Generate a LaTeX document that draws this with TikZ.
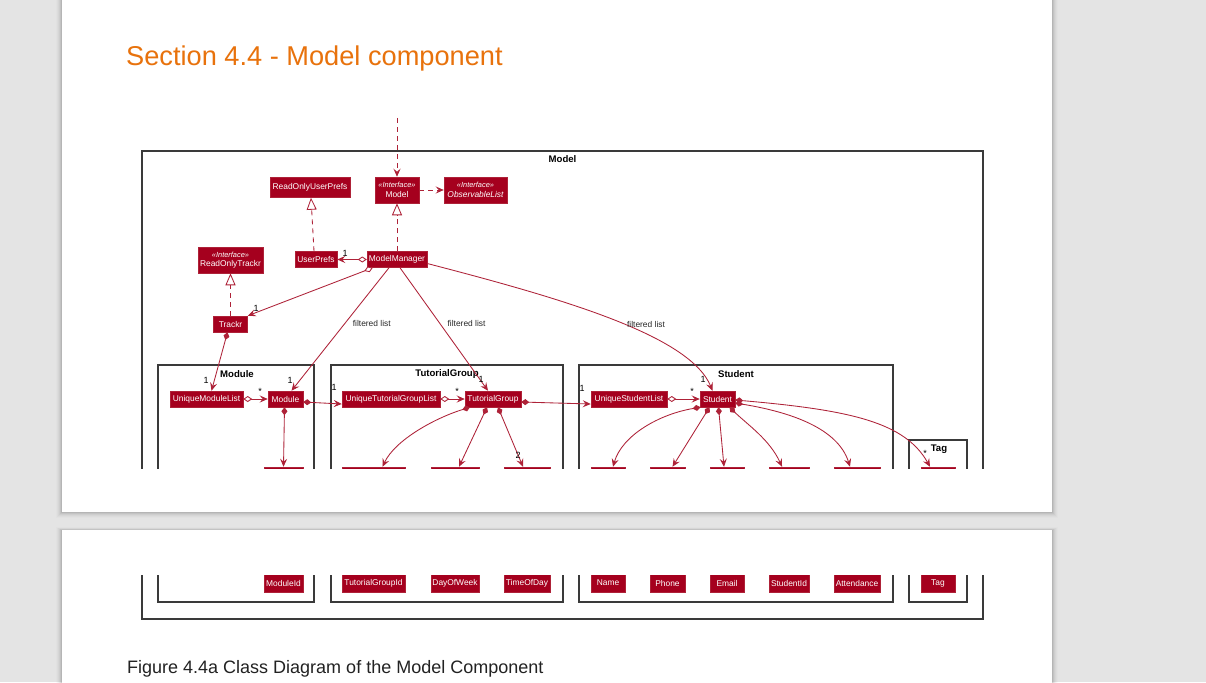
\documentclass[tikz,border=0pt]{standalone}
\usepackage{fontspec}
\setmainfont{Liberation Sans}
\usetikzlibrary{arrows.meta}

\definecolor{pagebg}{HTML}{E4E4E4}
\definecolor{umlfill}{HTML}{A5001E}
\definecolor{umlline}{HTML}{AE2238}
\definecolor{pkgline}{HTML}{3A3A3A}
\definecolor{titleorange}{HTML}{E8720C}
\definecolor{captiongray}{HTML}{222222}

\tikzset{
  umlarr/.tip={Stealth[length=8pt,width=7pt,inset=3pt]},
  odia/.tip={Diamond[open,length=9pt,width=6pt,fill=white]},
  fdia/.tip={Diamond[length=8pt,width=6pt]},
  rtri/.tip={Triangle[open,length=12pt,width=10pt,fill=white]},
  cls/.style={fill=umlfill, draw=umlline, line width=0.5pt, text=white,
    font=\fontsize{8.4}{9.6}\selectfont, inner sep=0pt, align=center},
  valcls/.style={cls, minimum height=18pt},
  pkg/.style={draw=pkgline, line width=1.2pt},
  pkglbl/.style={font=\bfseries\fontsize{9.6}{10}\selectfont, inner sep=0pt},
  link/.style={draw=umlline, line width=0.85pt},
  dep/.style={link, dash pattern=on 5pt off 4pt},
  lbl/.style={font=\fontsize{8.4}{9}\selectfont, text=black!85, inner sep=0pt},
  mult/.style={font=\fontsize{9}{9}\selectfont, text=black, inner sep=0pt},
}

% package frames (unbroken coordinates)
\newcommand\packageframes{%
  \draw[pkg] (142,151) rectangle (983,512);
  \draw[pkg] (158,365) rectangle (314,495);
  \draw[pkg] (331,365) rectangle (563,495);
  \draw[pkg] (579,365) rectangle (893,495);
  \draw[pkg] (909,440) rectangle (967,495);
}

% the row of value classes; #1 = 1 prints their names
\newcommand\valuerow[1]{%
  \def\vn##1{\ifnum#1=1 ##1\fi}%
  \node[valcls, minimum width=39pt] (modid) at (283.5,476) {\vn{ModuleId}};
  \node[valcls, minimum width=63pt] (tgid) at (373.5,476) {\vn{TutorialGroupId}};
  \node[valcls, minimum width=48pt] (dow) at (455,476) {\vn{DayOfWeek}};
  \node[valcls, minimum width=46pt] (tod) at (527,476) {\vn{TimeOfDay}};
  \node[valcls, minimum width=34pt] (name) at (608,476) {\vn{Name}};
  \node[valcls, minimum width=35pt] (phone) at (667.5,476) {\vn{Phone}};
  \node[valcls, minimum width=34pt] (email) at (727,476) {\vn{Email}};
  \node[valcls, minimum width=40pt] (sid) at (789,476) {\vn{StudentId}};
  \node[valcls, minimum width=46pt] (att) at (857,476) {\vn{Attendance}};
  \node[valcls, minimum width=34pt] (tag) at (938,476) {\vn{Tag}};
}

\begin{document}
\begin{tikzpicture}[x=1pt,y=-1pt]
  \useasboundingbox (0,0) rectangle (1206,682);
  \fill[pagebg] (0,0) rectangle (1206,682);
  % page shadows
  \foreach \d/\o in {6/0.012,5/0.018,4/0.025,3/0.035,2/0.05,1/0.07}{
    \fill[black, opacity=\o] (62-\d,-10) rectangle (1052+\d,512+\d);
    \fill[black, opacity=\o] (62-\d,530-\d/2) rectangle (1052+\d,700);
  }
  \fill[white] (62,-10) rectangle (1052,512);
  \fill[white] (62,530) rectangle (1052,700);
  % heading and caption
  \node[anchor=base west, inner sep=0pt, text=titleorange,
        font=\fontsize{27.2}{30}\selectfont] (title) at (126,66) {Section 4.4 - Model component};
  \node[anchor=base west, inner sep=0pt, text=captiongray,
        font=\fontsize{18}{21}\selectfont] (caption) at (127,673) {Figure 4.4a Class Diagram of the Model Component};

  % ---------- first page: upper part of the diagram ----------
  \begin{scope}
  \clip (62,0) rectangle (1052,468.5);
  \packageframes
  \node[pkglbl] (lmodel) at (562.5,159) {Model};
  \node[pkglbl] (lmodule) at (237,374) {Module};
  \node[pkglbl] (ltg) at (447,374) {TutorialGroup};
  \node[pkglbl] (lstudent) at (736,374) {Student};
  \node[pkglbl] (ltag) at (939,449) {Tag};
  % classes
  \node[cls, minimum width=80pt, minimum height=20pt] (rup) at (310,187.5) {ReadOnlyUserPrefs};
  \node[cls, minimum width=44pt, minimum height=26pt] (model) at (397,190)
    {{\itshape\fontsize{7.4}{8.6}\selectfont «Interface»}\\Model};
  \node[cls, minimum width=63pt, minimum height=26pt] (obs) at (475.5,190)
    {{\itshape\fontsize{7.4}{8.6}\selectfont «Interface»}\\\itshape ObservableList};
  \node[cls, minimum width=65pt, minimum height=26pt] (rot) at (230.5,260)
    {{\itshape\fontsize{7.4}{8.6}\selectfont «Interface»}\\ReadOnlyTrackr};
  \node[cls, minimum width=42pt, minimum height=16pt] (up) at (316,259.5) {UserPrefs};
  \node[cls, minimum width=60pt, minimum height=16pt] (mm) at (397,259.5) {ModelManager};
  \node[cls, minimum width=34pt, minimum height=16pt] (trackr) at (230.5,324) {Trackr};
  \node[cls, minimum width=73pt, minimum height=16pt] (uml) at (206.5,399) {UniqueModuleList};
  \node[cls, minimum width=35pt, minimum height=16pt] (module) at (285.5,399) {Module};
  \node[cls, minimum width=98pt, minimum height=16pt] (utgl) at (391,399) {UniqueTutorialGroupList};
  \node[cls, minimum width=56pt, minimum height=16pt] (tg) at (493,399) {TutorialGroup};
  \node[cls, minimum width=76pt, minimum height=16pt] (usl) at (629,399) {UniqueStudentList};
  \node[cls, minimum width=35pt, minimum height=16pt] (student) at (717.5,399) {Student};
  \valuerow{0}
  % dependencies and realizations
  \coordinate (logic) at (397,118);
  \draw[dep, -umlarr] (logic) -- (model);
  \draw[dep, -umlarr] (model) -- (obs);
  \draw[dep, -rtri] ([xshift=-2pt]up.north) -- ([xshift=1pt]rup.south);
  \draw[dep, -rtri] (mm.north) -- (model.south);
  \draw[dep, -rtri] (trackr.north) -- (rot.south);
  % associations
  \draw[link, odia-umlarr] (mm.west) -- (up.east)
    node[mult] (m1) at (345,253) {1};
  \draw[link, odia-umlarr] ([xshift=6pt]mm.south west) -- (trackr.north east)
    node[mult] (m2) at (256,308) {1};
  \draw[link, fdia-umlarr] ([xshift=-3pt]trackr.south) -- ([xshift=5pt]uml.north)
    node[mult] (m3) at (206,380) {1};
  \draw[link, -umlarr] ([xshift=-8pt]mm.south) -- ([xshift=6pt]module.north)
    node[lbl, pos=0.457, right=8pt] (f1) {filtered list}
    node[mult] (m4) at (290,380) {1};
  \draw[link, -umlarr] ([xshift=3pt]mm.south) -- ([xshift=-5pt]tg.north)
    node[lbl, pos=0.457, right=7pt] (f2) {filtered list}
    node[mult] (m5) at (481,379) {1};
  \draw[link, -umlarr] ([yshift=-4pt]mm.east) .. controls (560,298) and (690,335) .. ([xshift=-5pt]student.north)
    node[lbl, pos=0.62, above=6pt] (f3) {filtered list}
    node[mult] (m6) at (703,379) {1};
  \draw[link, odia-umlarr] (uml.east) -- (module.west)
    node[mult] (m7) at (260,391) {*};
  \draw[link, fdia-umlarr] ([yshift=-3pt]module.east) -- ([yshift=-5pt]utgl.west)
    node[mult] (m8) at (334,387) {1};
  \draw[link, odia-umlarr] (utgl.east) -- (tg.west)
    node[mult] (m9) at (457,391) {*};
  \draw[link, fdia-umlarr] ([yshift=-3pt]tg.east) -- ([yshift=-5pt]usl.west)
    node[mult] (m10) at (582,388) {1};
  \draw[link, odia-umlarr] (usl.east) -- (student.west)
    node[mult] (m11) at (692,391) {*};
  % compositions into the value classes
  \draw[link, fdia-umlarr] ([xshift=-1pt]module.south) -- (modid.north);
  \draw[link, fdia-umlarr] ([xshift=-23pt]tg.south) .. controls (435,418) and (395,440) .. ([xshift=9pt]tgid.north);
  \draw[link, fdia-umlarr] ([xshift=-6pt]tg.south) -- ([xshift=4pt]dow.north);
  \draw[link, fdia-umlarr] ([xshift=5pt]tg.south) -- ([xshift=-4pt]tod.north)
    node[mult] (m12) at (518,455) {2};
  \draw[link, fdia-umlarr] ([xshift=-17pt]student.south) .. controls (660,414) and (622,435) .. ([xshift=5pt]name.north);
  \draw[link, fdia-umlarr] ([xshift=-8pt]student.south) -- ([xshift=5pt]phone.north);
  \draw[link, fdia-umlarr] ([xshift=1pt]student.south) -- ([xshift=-3pt]email.north);
  \draw[link, fdia-umlarr] ([xshift=12pt]student.south) .. controls (748,425) and (770,440) .. ([xshift=-7pt]sid.north);
  \draw[link, fdia-umlarr] ([yshift=-4pt]student.east) .. controls (790,412) and (838,428) .. ([xshift=-7pt]att.north);
  \draw[link, fdia-umlarr] ([yshift=-1pt]student.east) .. controls (850,410) and (905,422) .. ([xshift=-8pt]tag.north)
    node[mult] (m13) at (925,453) {*};
  \end{scope}

  % ---------- second page: lower part of the diagram ----------
  \begin{scope}
    \clip (62,575) rectangle (1052,682);
    \begin{scope}[yshift=-107pt]
      \packageframes
      \valuerow{1}
    \end{scope}
  \end{scope}
\end{tikzpicture}
\end{document}
